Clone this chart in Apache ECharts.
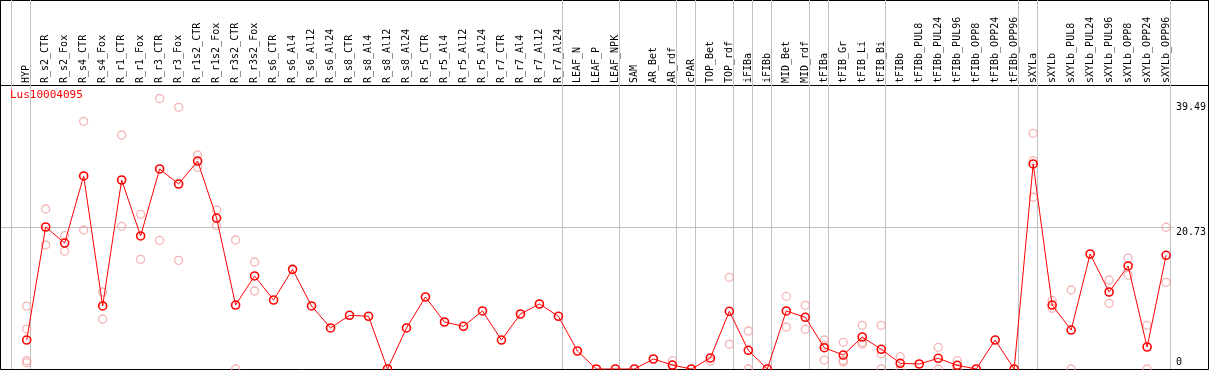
<!DOCTYPE html>
<html>
<head>
<meta charset="utf-8">
<script src="https://cdn.jsdelivr.net/npm/echarts@6/dist/echarts.min.js"></script>
<style>
    html, body {margin: 0; padding: 0; background: #fff;}
    #chart {width: 1209px; height: 370px;}
</style>
</head>
<body>
<div id="chart"></div>
<script>
const geneId = 'Lus10004095';

const categories = [
    'HYP', 'R_s2_CTR', 'R_s2_Fox', 'R_s4_CTR', 'R_s4_Fox', 'R_r1_CTR', 'R_r1_Fox', 'R_r3_CTR', 'R_r3_Fox',
    'R_r1s2_CTR', 'R_r1s2_Fox', 'R_r3s2_CTR', 'R_r3s2_Fox', 'R_s6_CTR', 'R_s6_Al4', 'R_s6_Al12', 'R_s6_Al24',
    'R_s8_CTR', 'R_s8_Al4', 'R_s8_Al12', 'R_s8_Al24', 'R_r5_CTR', 'R_r5_Al4', 'R_r5_Al12', 'R_r5_Al24',
    'R_r7_CTR', 'R_r7_Al4', 'R_r7_Al12', 'R_r7_Al24', 'LEAF_N', 'LEAF_P', 'LEAF_NPK', 'SAM', 'AR_Bet', 'AR_rdf',
    'cPAR', 'TOP_Bet', 'TOP_rdf', 'iFIBa', 'iFIBb', 'MID_Bet', 'MID_rdf', 'tFIBa', 'tFIB_Gr', 'tFIB_Li', 'tFIB_Bi',
    'tFIBb', 'tFIBb_PUL8', 'tFIBb_PUL24', 'tFIBb_PUL96', 'tFIBb_OPP8', 'tFIBb_OPP24', 'tFIBb_OPP96',
    'sXYLa', 'sXYLb', 'sXYLb_PUL8', 'sXYLb_PUL24', 'sXYLb_PUL96', 'sXYLb_OPP8', 'sXYLb_OPP24', 'sXYLb_OPP96'
];

// mean expression per sample
const means = [
    4.23, 20.73, 18.39, 28.18, 9.20, 27.59, 19.42, 29.2, 27.01,
    30.36, 22.04, 9.34, 13.58, 10.07, 14.55, 9.20, 5.99,
    7.84, 7.69, 0, 5.99, 10.51, 6.86, 6.23, 8.47,
    4.23, 8.03, 9.49, 7.69, 2.63, 0, 0, 0, 1.46, 0.58,
    0, 1.61, 8.42, 2.73, 0, 8.47, 7.55, 3.11, 2.04, 4.67, 2.88,
    0.83, 0.73, 1.56, 0.54, 0, 4.23, 0,
    29.93, 9.34, 5.69, 16.79, 11.24, 15.04, 3.21, 16.6
];

// single replicates per sample
const replicates = [
    [9.18, 5.83, 1.21, 0.92], [23.36, 18.10], [19.46, 17.18], [36.16, 20.29], [11.24, 7.30], [34.16, 20.83], [22.58, 16.01], [39.49, 18.79], [38.2, 15.87],
    [31.24, 29.45], [23.21, 20.92], [18.83, 0], [15.62, 11.39], [], [], [], [],
    [], [], [], [], [], [], [], [],
    [], [], [], [], [], [], [], [], [], [1.21, 0],
    [], [1.17], [13.39, 3.61], [5.55, 0], [], [10.61, 6.13], [9.3, 5.8], [4.23, 1.31, 3.5], [3.9, 1.24, 1.02], [6.38, 3.9, 3.65], [6.38, 2.23, 0],
    [1.8, 0], [], [3.17, 0], [1.21, 0], [], [], [],
    [34.41, 30.41, 25.07], [9.97, 8.86], [11.53, 0], [], [12.99, 9.59], [16.2, 13.68], [6.38, 0], [20.69, 12.66]
];

const yTickLabels = [0, 20.73, 39.49];
const yMax = 41.46;
// first sample of each tissue group, a grey separator goes in front of it
const groupStarts = [0, 1, 29, 32, 35, 36, 38, 39, 40, 42, 43, 46, 53, 54];

const repData = [];
replicates.forEach((vals, i) => {
    vals.forEach(v => repData.push([i, v]));
});

const mono = 'DejaVu Sans Mono';

const myChart = echarts.init(document.getElementById('chart'));

const option = {
    animation: false,
    backgroundColor: '#fff',
    title: {
        text: geneId,
        left: 10,
        top: 90,
        padding: 0,
        textStyle: {color: '#ff0000', fontSize: 11, fontWeight: 'normal', fontFamily: mono}
    },
    grid: [
        {left: 17.2, width: 1158.4, top: 85, height: 284},           // data
        {left: 11, width: 1159.6, top: 0, height: 369},              // group separators
        {left: 1, width: 1176, top: 85, height: 284},                // horizontal line + labels
        {left: 0.5, top: 0.5, width: 1208, height: 369, show: true, borderColor: '#000', borderWidth: 1, backgroundColor: 'transparent'},
        {left: 0.5, top: 0.5, width: 1208, height: 85, show: true, borderColor: '#000', borderWidth: 1, backgroundColor: 'transparent'}
    ],
    xAxis: [
        {
            gridIndex: 0,
            type: 'category',
            data: categories,
            position: 'top',
            boundaryGap: true,
            axisLine: {show: false},
            axisTick: {show: false},
            splitLine: {show: false},
            axisLabel: {
                interval: 0,
                rotate: 90,
                margin: 2,
                color: '#000',
                fontSize: 10,
                fontFamily: mono
            }
        },
        {
            gridIndex: 1,
            type: 'category',
            data: categories,
            boundaryGap: true,
            axisLine: {show: false},
            axisTick: {show: false},
            axisLabel: {show: false},
            splitLine: {
                show: true,
                interval: (i) => groupStarts.indexOf(i) >= 0,
                lineStyle: {color: '#c0c0c0', width: 1}
            }
        },
        {gridIndex: 2, type: 'value', show: false},
        {gridIndex: 3, type: 'value', show: false},
        {gridIndex: 4, type: 'value', show: false}
    ],
    yAxis: [
        {gridIndex: 0, type: 'value', min: 0, max: yMax, show: false},
        {gridIndex: 1, type: 'value', show: false},
        {
            gridIndex: 2,
            type: 'value',
            min: 0,
            max: yMax,
            interval: yMax / 2,
            position: 'right',
            axisLine: {show: false},
            axisTick: {show: false},
            splitLine: {
                show: true,
                showMinLine: false,
                showMaxLine: false,
                lineStyle: {color: '#c0c0c0', width: 1}
            },
            axisLabel: {
                customValues: yTickLabels,
                margin: 2,
                align: 'left',
                verticalAlign: 'middle',
                formatter: function (v) {
                    if (v === 0) return '{z|0}';
                    if (v > 30) return '{t|' + v + '}';
                    return '{m|' + v + '}';
                },
                rich: {
                    z: {fontSize: 10, fontFamily: mono, color: '#000', padding: [0, 0, 13, 0]},
                    m: {fontSize: 10, fontFamily: mono, color: '#000', padding: [11, 0, 0, 0]},
                    t: {fontSize: 10, fontFamily: mono, color: '#000', padding: [17, 0, 0, 0]}
                }
            }
        },
        {gridIndex: 3, type: 'value', show: false},
        {gridIndex: 4, type: 'value', show: false}
    ],
    series: [
        {
            name: 'replicates',
            type: 'scatter',
            xAxisIndex: 0,
            yAxisIndex: 0,
            data: repData,
            symbol: 'circle',
            symbolSize: 8,
            silent: true,
            z: 2,
            itemStyle: {color: 'rgba(0,0,0,0)', borderColor: '#f2a0a0', borderWidth: 1.3}
        },
        {
            name: 'mean',
            type: 'line',
            xAxisIndex: 0,
            yAxisIndex: 0,
            data: means,
            symbol: 'circle',
            symbolSize: 8,
            showAllSymbol: true,
            z: 3,
            lineStyle: {color: '#ff0000', width: 1},
            itemStyle: {color: 'rgba(0,0,0,0)', borderColor: '#ff0000', borderWidth: 1.6}
        }
    ]
};
myChart.setOption(option, true);
</script>
</body>
</html>
